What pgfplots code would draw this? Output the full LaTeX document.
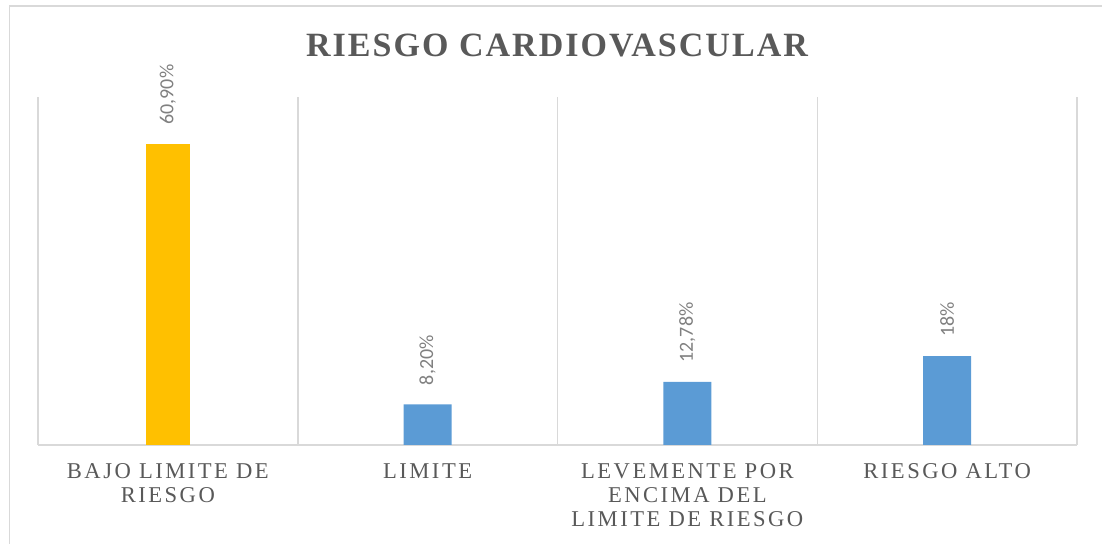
\documentclass[border=0pt]{standalone}
\usepackage{pgfplots}
\pgfplotsset{compat=1.18}
\usepackage{fontspec}
\setmainfont{Liberation Serif}
\newfontfamily\tickfont[LetterSpace=11]{Liberation Serif}
\newfontfamily\titlefont[LetterSpace=6]{Liberation Serif}
\newfontfamily\labelfont{Carlito}
\definecolor{barYellow}{HTML}{FFC000}
\definecolor{barBlue}{HTML}{5B9BD5}
\definecolor{gridGray}{HTML}{D9D9D9}
\definecolor{textGray}{HTML}{595959}
\definecolor{labelGray}{HTML}{808080}

\begin{document}
\begin{tikzpicture}
\path[use as bounding box] (-19pt,-49.5pt) rectangle (532pt,222.5pt);
% chart area frame (only top and left edges are visible)
\draw[gridGray, line width=0.6pt] (-14.25pt,-60pt) -- (-14.25pt,219.5pt) -- (540pt,219.5pt);
\begin{axis}[
    at={(0,0)}, anchor=south west,
    scale only axis,
    width=519.5pt, height=174pt,
    xmin=-0.5, xmax=3.5,
    ymin=0, ymax=70.4,
    hide y axis,
    axis x line*=bottom,
    x axis line style={gridGray, line width=0.75pt, -},
    xtick={0,1,2,3},
    xticklabels={{BAJO LIMITE DE\\RIESGO},{LIMITE},{LEVEMENTE POR\\ENCIMA DEL\\LIMITE DE RIESGO},{RIESGO ALTO}},
    xticklabel style={align=center, font=\tickfont\fontsize{11.3}{12}\selectfont, text=textGray, yshift=-5.8pt},
    minor xtick={-0.5,0.5,1.5,2.5,3.5},
    xminorgrids=true,
    minor grid style={gridGray, line width=0.75pt},
    major tick length=0pt, minor tick length=0pt,
    ybar,
    point meta=explicit symbolic,
    nodes near coords,
    nodes near coords style={rotate=90, anchor=west, inner sep=0pt, inner xsep=9.5pt,
        font=\labelfont\fontsize{10}{12}\selectfont, text=labelGray},
]
\addplot[fill=barYellow, draw=none, bar shift=0pt, bar width=22pt] coordinates {
    (0,60.9) [60,90\%]
};
\addplot[fill=barBlue, draw=none, bar shift=0pt, bar width=24pt] coordinates {
    (1,8.2) [8,20\%]
    (2,12.78) [12,78\%]
    (3,18) [18\%]
};
\end{axis}
\node[anchor=base, font=\titlefont\fontsize{17}{20}\selectfont\bfseries, text=textGray] at (259.5pt,194pt) {RIESGO CARDIOVASCULAR};
\end{tikzpicture}
\end{document}
